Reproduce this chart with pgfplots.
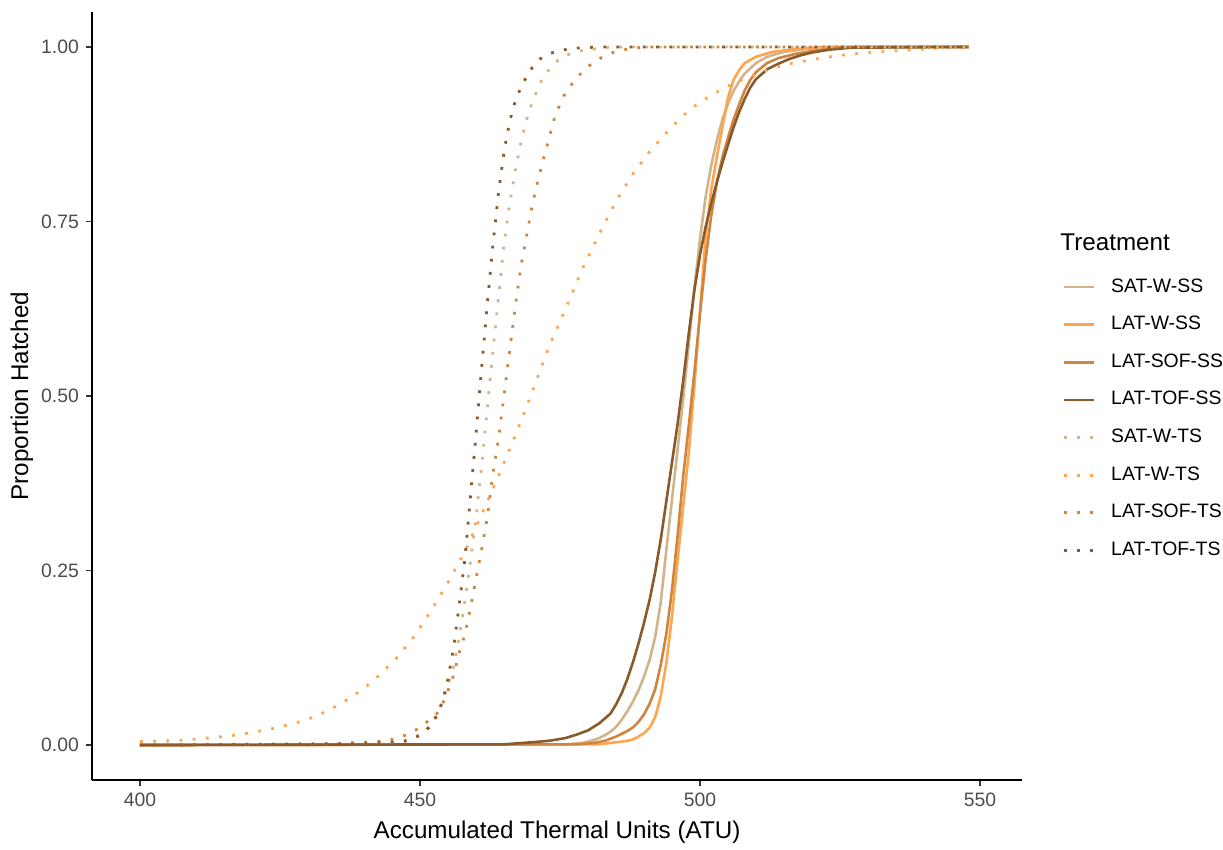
\documentclass[border=0pt]{standalone}
\usepackage{fontspec}
\setmainfont{Liberation Sans}
\usepackage{pgfplots}
\pgfplotsset{compat=1.18}
\definecolor{cTan}{RGB}{210,180,140}
\definecolor{cTanA}{RGB}{255,165,79}
\definecolor{cTanC}{RGB}{205,133,63}
\definecolor{cTanD}{RGB}{139,90,43}
\definecolor{tickgrey}{RGB}{77,77,77}
\tikzset{
  solidc/.style={line width=1.3pt, line join=round},
  dotc/.style={line width=1.4pt, line cap=butt, dash pattern=on 1.4pt off 5.2pt},
}
\begin{document}
\begin{tikzpicture}
\begin{axis}[
  scale only axis, width=465pt, height=384pt,
  xmin=391.43, xmax=557.5, ymin=-0.0501, ymax=1.0501,
  axis lines=left,
  axis line style={-, line width=0.6pt, black},
  xtick={400,450,500,550}, ytick={0,0.25,0.5,0.75,1},
  tick align=outside, major tick length=3pt,
  tick style={line width=0.6pt, color=black!80},
  /pgf/number format/assume math mode=true,
  y tick label style={/pgf/number format/fixed, /pgf/number format/fixed zerofill, /pgf/number format/precision=2},
  x tick label style={/pgf/number format/fixed, /pgf/number format/precision=0},
  tick label style={font=\fontsize{9.7}{11}\selectfont, text=tickgrey},
  xlabel={Accumulated Thermal Units (ATU)}, ylabel={Proportion Hatched},
  label style={font=\fontsize{12.1}{14}\selectfont},
  xlabel style={at={(axis description cs:0.5,-0.0677)}, anchor=center},
  ylabel style={at={(axis description cs:-0.0753,0.5)}, anchor=center},
  clip=false,
  legend cell align=left,
  legend image code/.code={\draw[#1] (0pt,0pt) -- (15pt,0pt);},
  legend style={at={(axis description cs:1.043,0.654)}, anchor=north west,
    draw=none, fill=none, inner sep=0pt, row sep=9.8pt,
    font=\fontsize{9.7}{11}\selectfont,
    nodes={inner sep=0pt, text height=7pt, text depth=2pt},
    /tikz/every odd column/.append style={column sep=8pt}},
]
% SAT-W-SS
\addplot[solidc, cTan] coordinates {
(400,0) (476,0.001) (479,0.003) (481,0.007) (482,0.010) (483,0.014) (484,0.019)
(485,0.026) (486,0.036) (487,0.048) (488,0.062) (489,0.078) (490,0.098) (491,0.122)
(492,0.155) (493,0.205) (494,0.280) (495,0.352) (496,0.424) (497,0.495) (498,0.575)
(499,0.655) (500,0.725) (501,0.785) (502,0.830) (503,0.866) (504,0.896) (505,0.919)
(506,0.937) (507,0.951) (508,0.962) (510,0.977) (512,0.986) (515,0.993) (519,0.997)
(524,1.0) (548,1.0)};
\addlegendentry{SAT-W-SS}
% LAT-W-SS
\addplot[solidc, cTanA] coordinates {
(400,0) (482,0.001) (485,0.004) (487,0.006) (488,0.008) (489,0.012) (490,0.017)
(491,0.025) (492,0.040) (493,0.070) (494,0.118) (495,0.185) (496,0.265) (497,0.342)
(498,0.420) (499,0.515) (500,0.622) (501,0.728) (502,0.796) (503,0.842) (504,0.885)
(505,0.928) (506,0.953) (507,0.967) (508,0.977) (510,0.986) (513,0.993) (517,0.997)
(522,1.0) (548,1.0)};
\addlegendentry{LAT-W-SS}
% LAT-SOF-SS
\addplot[solidc, cTanC] coordinates {
(400,0) (478,0.001) (481,0.003) (483,0.006) (485,0.012) (487,0.020) (488,0.025)
(489,0.033) (490,0.044) (491,0.059) (492,0.080) (493,0.115) (494,0.160) (495,0.222)
(496,0.300) (497,0.385) (498,0.458) (499,0.535) (500,0.618) (501,0.695) (502,0.758)
(503,0.806) (504,0.842) (505,0.870) (506,0.896) (507,0.918) (508,0.938) (509,0.953)
(510,0.964) (512,0.977) (514,0.984) (517,0.990) (520,0.994) (524,0.998) (528,1.0)
(548,1.0)};
\addlegendentry{LAT-SOF-SS}
% LAT-TOF-SS
\addplot[solidc, cTanD] coordinates {
(400,0) (465,0.001) (470,0.004) (473,0.006) (476,0.010) (478,0.015) (480,0.021)
(482,0.031) (483,0.038) (484,0.045) (485,0.058) (486,0.074) (487,0.094) (488,0.118)
(489,0.145) (490,0.175) (491,0.208) (492,0.248) (493,0.295) (494,0.350) (495,0.405)
(496,0.460) (497,0.522) (498,0.590) (499,0.652) (500,0.702) (501,0.742) (502,0.776)
(503,0.806) (504,0.834) (505,0.860) (506,0.885) (507,0.907) (508,0.926) (509,0.942)
(510,0.954) (512,0.968) (514,0.976) (516,0.983) (518,0.988) (520,0.992) (523,0.996)
(527,0.999) (548,1.0)};
\addlegendentry{LAT-TOF-SS}
% SAT-W-TS
\addplot[dotc, cTan] coordinates {
(400,0) (440,0.002) (446,0.005) (448,0.008) (450,0.015) (451,0.021) (452,0.030)
(453,0.043) (454,0.062) (455,0.085) (456,0.112) (457,0.155) (458,0.205) (459,0.262)
(460,0.325) (461,0.400) (462,0.480) (463,0.563) (464,0.640) (465,0.718) (466,0.775)
(467,0.822) (468,0.862) (469,0.895) (470,0.920) (471,0.940) (472,0.957) (474,0.977)
(476,0.988) (479,0.995) (484,1.0) (548,1.0)};
\addlegendentry{SAT-W-TS}
% LAT-W-TS
\addplot[dotc, cTanA] coordinates {
(400,0.005) (405,0.006) (408,0.007) (412,0.010) (416,0.013) (420,0.018) (424,0.024)
(428,0.032) (431,0.040) (434,0.051) (437,0.065) (440,0.081) (443,0.102) (446,0.126)
(449,0.156) (452,0.193) (455,0.233) (458,0.277) (461,0.330) (464,0.385) (467,0.443)
(470,0.505) (473,0.570) (476,0.625) (479,0.682) (482,0.732) (485,0.779) (488,0.818)
(491,0.850) (494,0.877) (497,0.902) (500,0.921) (504,0.940) (508,0.955) (512,0.967)
(516,0.976) (520,0.982) (525,0.988) (530,0.992) (536,0.995) (542,0.998) (548,1.0)};
\addlegendentry{LAT-W-TS}
% LAT-SOF-TS
\addplot[dotc, cTanC] coordinates {
(400,0) (435,0.002) (440,0.004) (444,0.006) (446,0.010) (448,0.016) (450,0.025)
(452,0.038) (453,0.045) (454,0.058) (455,0.078) (456,0.100) (457,0.132) (458,0.158)
(459,0.196) (460,0.238) (461,0.280) (462,0.325) (463,0.388) (464,0.438) (465,0.500)
(466,0.565) (467,0.627) (468,0.685) (469,0.728) (470,0.772) (471,0.807) (472,0.838)
(473,0.868) (474,0.898) (475,0.918) (476,0.935) (478,0.956) (480,0.972) (482,0.983)
(484,0.991) (487,0.997) (490,1.0) (548,1.0)};
\addlegendentry{LAT-SOF-TS}
% LAT-TOF-TS
\addplot[dotc, cTanD] coordinates {
(400,0) (430,0.001) (440,0.002) (445,0.004) (447,0.005) (448,0.007) (449,0.010)
(450,0.014) (451,0.020) (452,0.029) (453,0.042) (454,0.062) (455,0.095) (456,0.140)
(457,0.200) (458,0.265) (459,0.355) (460,0.445) (461,0.540) (462,0.630) (463,0.715)
(464,0.790) (465,0.850) (466,0.893) (467,0.922) (468,0.942) (469,0.957) (470,0.970)
(471,0.980) (472,0.986) (474,0.993) (477,0.998) (482,1.0) (548,1.0)};
\addlegendentry{LAT-TOF-TS}
\node[anchor=west, inner sep=0pt, font=\fontsize{12.1}{14}\selectfont] at (axis description cs:1.0409,0.7005) {Treatment};
\path (axis description cs:-0.0989,-0.0833) rectangle (axis description cs:1.2161,1.0156);
\end{axis}
\end{tikzpicture}
\end{document}
